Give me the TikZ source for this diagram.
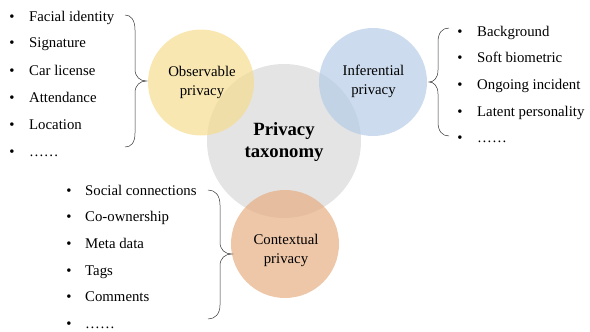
\documentclass[tikz,border=0pt]{standalone}
\usepackage{fontspec}
\setmainfont{Liberation Serif}
\definecolor{obsc}{RGB}{246,221,146}
\definecolor{infc}{RGB}{182,205,231}
\definecolor{ctxc}{RGB}{231,175,131}
\definecolor{taxc}{RGB}{216,216,216}
\begin{document}
\begin{tikzpicture}[x=1pt,y=-1pt,
  circ/.style={circle, inner sep=0pt, minimum size=#1, fill opacity=0.7, draw=none},
  lab/.style={align=center, font=\fontsize{14.8}{19}\selectfont, inner sep=0pt},
  biglab/.style={align=center, font=\fontsize{18.7}{22}\selectfont\bfseries, inner sep=0pt},
  item/.style={anchor=base west, font=\fontsize{14.8}{18}\selectfont, inner sep=0pt},
  bul/.style={anchor=base, font=\fontsize{14.8}{18}\selectfont, inner sep=0pt},
  brc/.style={draw=black!80, line width=0.5pt}]
\useasboundingbox (0,0) rectangle (590,332);
% circles
\node[circ=154pt, fill=taxc] (tax) at (284,141) {};
\node[circ=106pt, fill=obsc] (obs) at (201,82.5) {};
\node[circ=108pt, fill=infc] (inf) at (373,82) {};
\node[circ=108pt, fill=ctxc] (ctx) at (285,244) {};
% labels
\node[biglab] (taxl) at (284,142) {Privacy\\taxonomy};
\node[lab] (obsl) at (202,82.5) {Observable\\privacy};
\node[lab] (infl) at (373.5,81.5) {Inferential\\privacy};
\node[lab] (ctxl) at (286,250) {Contextual\\privacy};
% left list
\foreach \t [count=\i from 0] in {Facial identity, Signature, Car license, Attendance, Location, ……} {
  \node[bul] (lb\i) at (12, {21+27*\i}) {\textbullet};
  \node[item] (lt\i) at (29, {21+27*\i}) {\t};
}
% right list
\foreach \t [count=\i from 0] in {Background, Soft biometric, Ongoing incident, Latent personality, ……} {
  \node[bul] (rb\i) at (460, {36+26.7*\i}) {\textbullet};
  \node[item] (rt\i) at (477, {36+26.7*\i}) {\t};
}
% bottom list
\foreach \t [count=\i from 0] in {Social connections, Co-ownership, Meta data, Tags, Comments, ……} {
  \node[bul] (bb\i) at (69, {195+26.7*\i}) {\textbullet};
  \node[item] (bt\i) at (85, {195+26.7*\i}) {\t};
}
% braces
\coordinate (lbt) at (125,15); \coordinate (lbm) at (146.5,81); \coordinate (lbb) at (125,147);
\draw[brc] (lbt) .. controls (131,15) and (135,20) .. (135,30) -- (135,69)
  .. controls (135,77) and (140,81) .. (lbm)
  .. controls (140,81) and (135,85) .. (135,93) -- (135,133)
  .. controls (135,143) and (131,147) .. (lbb);
\coordinate (rbt) at (449,28); \coordinate (rbm) at (429,82); \coordinate (rbb) at (449,136);
\draw[brc] (rbt) .. controls (442,28) and (438,33) .. (438,42) -- (438,70)
  .. controls (438,78) and (434,82) .. (rbm)
  .. controls (434,82) and (438,86) .. (438,94) -- (438,122)
  .. controls (438,131) and (442,136) .. (rbb);
\coordinate (bbt) at (208,190); \coordinate (bbm) at (232,254); \coordinate (bbb) at (208,319);
\draw[brc] (bbt) .. controls (215,190) and (220,195) .. (220,205) -- (220,242)
  .. controls (220,250) and (225,254) .. (bbm)
  .. controls (225,254) and (220,258) .. (220,266) -- (220,305)
  .. controls (220,314) and (215,319) .. (bbb);
\end{tikzpicture}
\end{document}
